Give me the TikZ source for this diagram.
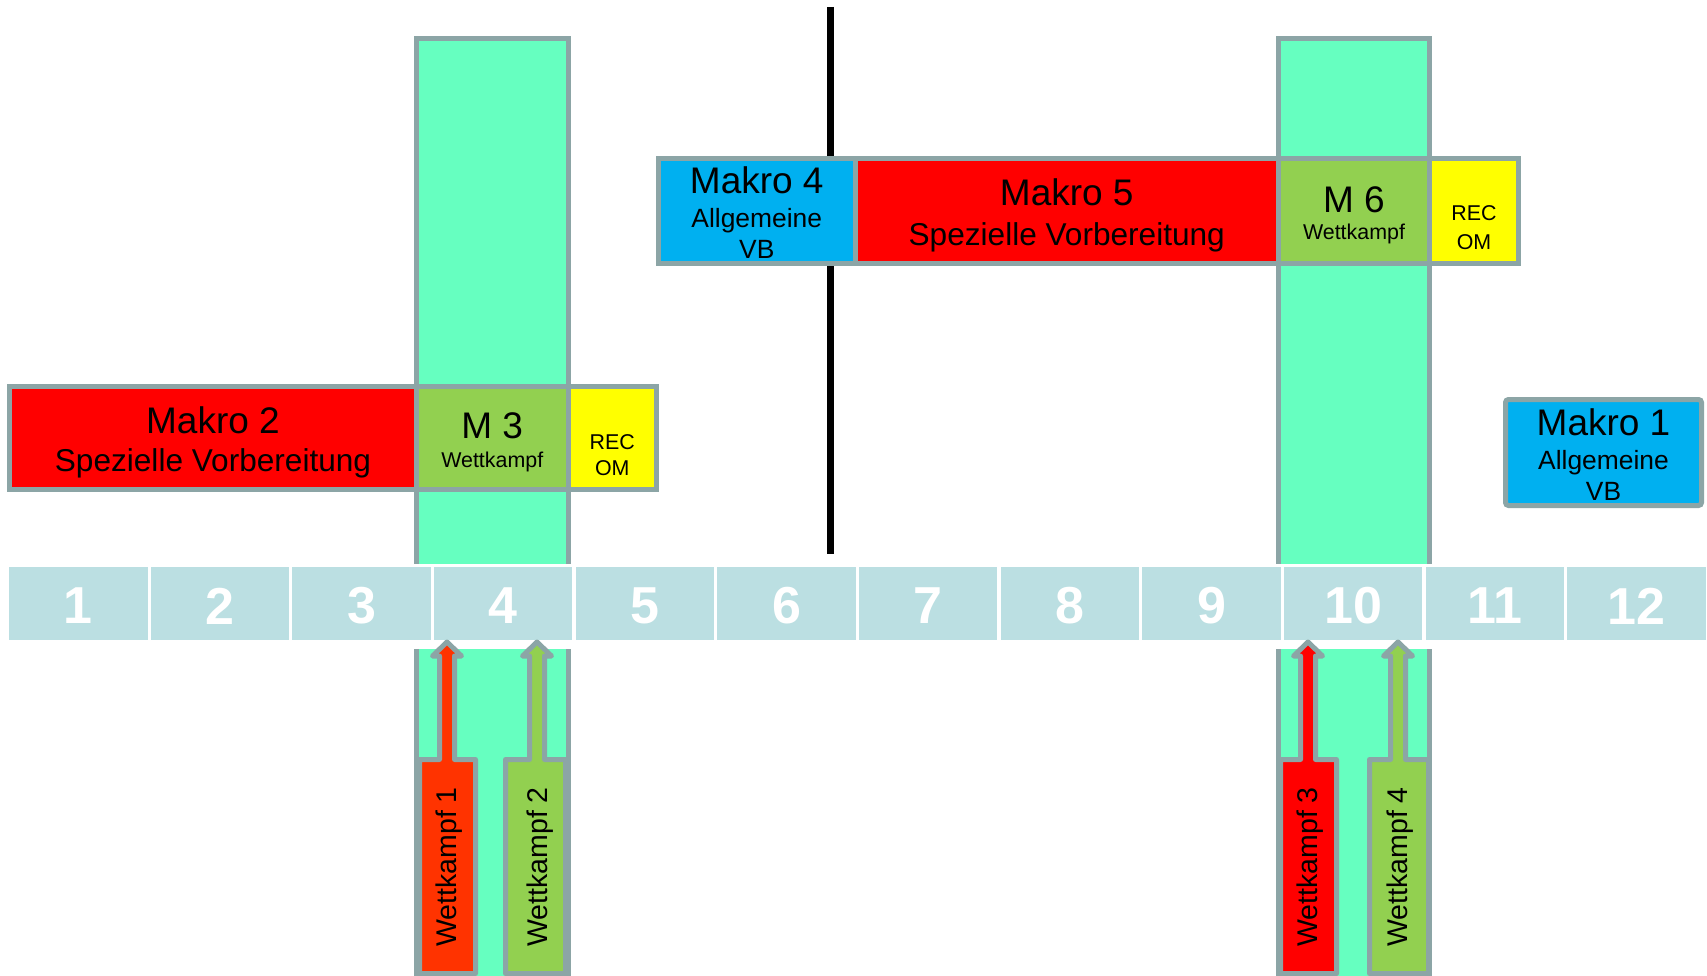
\documentclass[tikz,border=0pt]{standalone}
\usepackage{fontspec}
\setmainfont{Liberation Sans}
\definecolor{colgreen}{RGB}{102,255,192}
\definecolor{bordergray}{RGB}{140,165,166}
\definecolor{cellblue}{RGB}{187,223,226}
\definecolor{mred}{RGB}{255,0,0}
\definecolor{mored}{RGB}{255,51,0}
\definecolor{mgreen}{RGB}{146,208,80}
\definecolor{mblue}{RGB}{0,176,240}
\definecolor{myellow}{RGB}{255,255,0}
\newcommand{\myfs}[1]{\fontsize{#1pt}{#1pt}\selectfont}
\newcommand{\wkshape}[4]{%
  \draw[callout, fill=#4] (#1,973.5) -- (#1,759.5) -- ({#3-7.5},759.5) -- ({#3-7.5},656) -- ({#3-14.5},656) -- (#3,642) -- ({#3+14.5},656) -- ({#3+7.5},656) -- ({#3+7.5},759.5) -- (#2,759.5) -- (#2,973.5) -- cycle;}
\begin{document}
\begin{tikzpicture}[x=1pt,y=-1pt,
  bx/.style={draw=bordergray, line width=5pt, inner sep=0pt, outer sep=0pt, rectangle},
  lbl/.style={inner sep=0pt, outer sep=0pt, text=black},
  big/.style={lbl, font=\myfs{37}},
  sub/.style={lbl, font=\myfs{31.6}},
  allg/.style={lbl, font=\myfs{26.4}},
  small/.style={lbl, font=\myfs{21.4}},
  wk/.style={lbl, rotate=90, font=\myfs{28.5}},
  cell/.style={fill=cellblue, inner sep=0pt, outer sep=0pt, minimum width=138.5pt, minimum height=73pt, text=white, font=\bfseries\myfs{52}},
  callout/.style={draw=bordergray, line width=5pt, line join=round}]
\useasboundingbox (0,0) rectangle (1707,976);
\clip (0,0) rectangle (1707,976);
\fill[white] (0,0) rectangle (1707,976);
% black divider line
\coordinate (lt) at (830,7);
\coordinate (lb) at (830,554);
\draw[line width=7pt] (lt) -- (lb);
% competition columns
\node[bx, fill=colgreen, minimum width=151.5pt, minimum height=961.5pt] (col1) at (492.25,519.25) {};
\node[bx, fill=colgreen, minimum width=151pt, minimum height=961.5pt] (col2) at (1354,519.25) {};
% timeline
\fill[white] (0,564) rectangle (1707,649);
\foreach \k in {1,...,12}
  \node[cell] (t\k) at ({78.25+(\k-1)*141.65},603.5) {};
\foreach \k in {1,...,12}
  \node[lbl, text=white, font=\bfseries\myfs{52}] (n\k) at ({78.25+(\k-1)*141.65},606) {\k};
% top row
\node[bx, fill=mblue, minimum width=196.5pt, minimum height=105pt] (m4) at (756.75,211) {};
\node[bx, fill=mred, minimum width=423.5pt, minimum height=105pt] (m5) at (1066.75,211) {};
\node[bx, fill=mgreen, minimum width=151pt, minimum height=105pt] (m6) at (1354,211) {};
\node[bx, fill=myellow, minimum width=89pt, minimum height=105pt] (rec2) at (1474,211) {};
\node[big] (m4a) at (756.75,180.5) {Makro 4};
\node[allg] (m4b) at (756.75,220.5) {Allgemeine};
\node[allg] (m4c) at (756.75,249) {VB};
\node[big] (m5a) at (1066.75,192) {Makro 5};
\node[sub] (m5b) at (1066.75,237) {Spezielle Vorbereitung};
\node[big] (m6a) at (1354,199.5) {M 6};
\node[small] (m6b) at (1354,234) {Wettkampf};
\node[small] (rec2a) at (1474,213) {REC};
\node[small] (rec2b) at (1474,242) {OM};
% middle row
\node[bx, fill=mred, minimum width=407pt, minimum height=103pt] (m2) at (213,437.5) {};
\node[bx, fill=mgreen, minimum width=151.5pt, minimum height=103pt] (m3) at (492.25,437.5) {};
\node[bx, fill=myellow, minimum width=88.5pt, minimum height=103pt] (rec1) at (612.25,437.5) {};
\node[big] (m2a) at (213,420) {Makro 2};
\node[sub] (m2b) at (213,463) {Spezielle Vorbereitung};
\node[big] (m3a) at (492.25,426) {M 3};
\node[small] (m3b) at (492.25,461.5) {Wettkampf};
\node[small] (rec1a) at (612.25,442.5) {REC};
\node[small] (rec1b) at (612.25,468.5) {OM};
% Makro 1
\node[bx, fill=mblue, rounded corners=3pt, minimum width=196pt, minimum height=106pt] (m1) at (1603.5,452.5) {};
\node[big] (m1a) at (1603.5,422.5) {Makro 1};
\node[allg] (m1b) at (1603.5,462.5) {Allgemeine};
\node[allg] (m1c) at (1603.5,491) {VB};
% competition callouts
\wkshape{419.5}{475.5}{447}{mored}
\wkshape{505.5}{565.5}{537}{mgreen}
\wkshape{1280.5}{1336.5}{1308}{mred}
\wkshape{1369.5}{1428.5}{1398}{mgreen}
\node[wk] (w1) at (449,867) {Wettkampf 1};
\node[wk] (w2) at (540,867) {Wettkampf 2};
\node[wk] (w3) at (1310,867) {Wettkampf 3};
\node[wk] (w4) at (1400,867) {Wettkampf 4};
\end{tikzpicture}
\end{document}
